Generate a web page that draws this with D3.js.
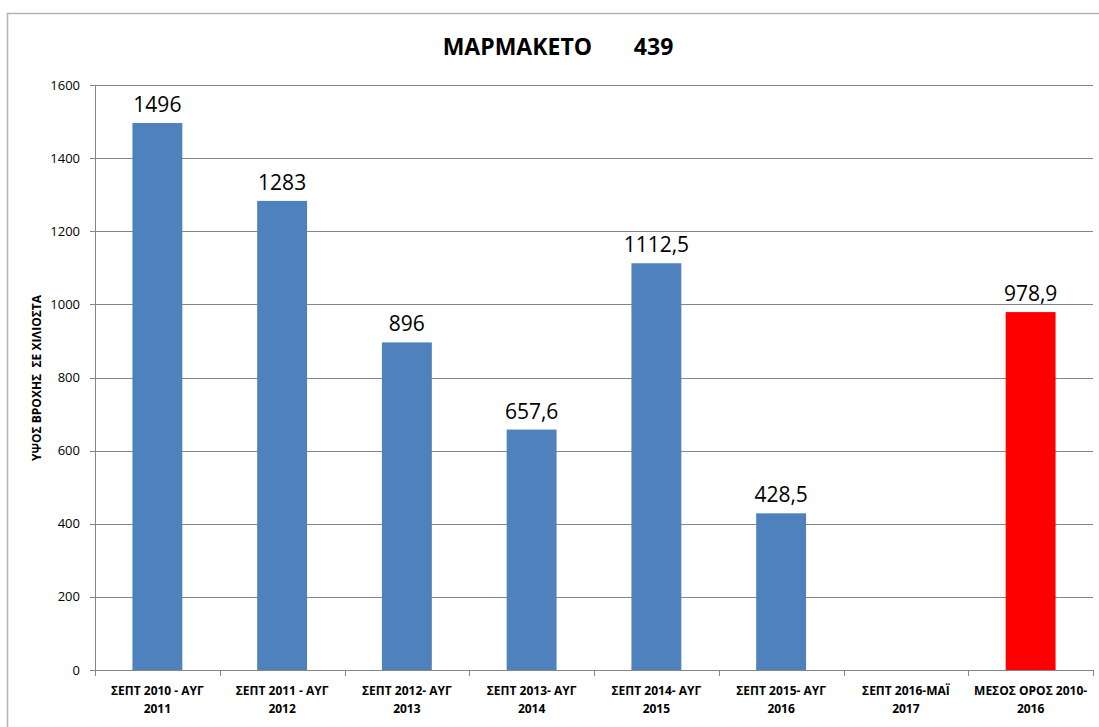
<!DOCTYPE html>
<html lang="el">
<head>
<meta charset="utf-8">
<title>ΜΑΡΜΑΚΕΤΟ 439</title>
<script src="https://d3js.org/d3.v7.min.js"></script>
<style>
    body { margin: 0; background: #fff; }
    text { font-family: "Open Sans", "Noto Sans", sans-serif; fill: #000; }
</style>
</head>
<body>
<script>
    // chart data
    var categories = [
        ["ΣΕΠΤ 2010 - ΑΥΓ", "2011"],
        ["ΣΕΠΤ 2011 - ΑΥΓ", "2012"],
        ["ΣΕΠΤ 2012- ΑΥΓ", "2013"],
        ["ΣΕΠΤ 2013- ΑΥΓ", "2014"],
        ["ΣΕΠΤ 2014- ΑΥΓ", "2015"],
        ["ΣΕΠΤ 2015- ΑΥΓ", "2016"],
        ["ΣΕΠΤ 2016-ΜΑΪ", "2017"],
        ["ΜΕΣΟΣ ΟΡΟΣ 2010-", "2016"]
    ];
    var values = [1496, 1283, 896, 657.6, 1112.5, 428.5, null, 978.9];
    var barColors = ["#4F81BD", "#4F81BD", "#4F81BD", "#4F81BD", "#4F81BD", "#4F81BD", "#4F81BD", "#FF0000"];
    var yTicks = [0, 200, 400, 600, 800, 1000, 1200, 1400, 1600];

    var w = 1099, h = 727;
    var mLeft = 95, mRight = 1093, mTop = 85, mBottom = 670;

    var svg = d3.select("body").append("svg")
        .attr("width", w)
        .attr("height", h);

    // outer chart frame
    svg.append("rect")
        .attr("x", 7.5).attr("y", 13.5)
        .attr("width", 1200).attr("height", 800)
        .attr("fill", "none")
        .attr("stroke", "#b3b3b3")
        .attr("stroke-width", 1.5);

    var x = d3.scaleBand()
        .domain(d3.range(categories.length))
        .range([mLeft, mRight])
        .paddingInner(0.6)
        .paddingOuter(0.3);

    var y = d3.scaleLinear()
        .domain([0, 1600])
        .range([mBottom, mTop]);

    // gridlines
    svg.append("g")
        .selectAll("line")
        .data(yTicks)
        .enter().append("line")
        .attr("x1", mLeft - 5).attr("x2", mRight)
        .attr("y1", function (d) { return Math.round(y(d)) + 0.5; })
        .attr("y2", function (d) { return Math.round(y(d)) + 0.5; })
        .attr("stroke", "#868686")
        .attr("stroke-width", 1);

    // y axis line
    svg.append("line")
        .attr("x1", mLeft + 0.5).attr("x2", mLeft + 0.5)
        .attr("y1", mTop).attr("y2", mBottom)
        .attr("stroke", "#868686");

    // y tick labels
    svg.append("g")
        .selectAll("text")
        .data(yTicks)
        .enter().append("text")
        .attr("x", mLeft - 15)
        .attr("y", function (d) { return y(d); })
        .attr("dy", "0.35em")
        .attr("text-anchor", "end")
        .style("font-size", "13px")
        .text(function (d) { return d; });

    // x category ticks
    svg.append("g")
        .selectAll("line")
        .data(d3.range(categories.length + 1))
        .enter().append("line")
        .attr("x1", function (i) { return Math.round(mLeft + i * x.step()) + 0.5; })
        .attr("x2", function (i) { return Math.round(mLeft + i * x.step()) + 0.5; })
        .attr("y1", mBottom).attr("y2", mBottom + 6)
        .attr("stroke", "#868686");

    var idx = d3.range(values.length).filter(function (i) { return values[i] != null; });

    // bars
    svg.append("g")
        .selectAll("rect")
        .data(idx)
        .enter().append("rect")
        .attr("x", function (i) { return x(i); })
        .attr("width", x.bandwidth())
        .attr("y", function (i) { return y(values[i]); })
        .attr("height", function (i) { return mBottom - y(values[i]); })
        .attr("fill", function (i) { return barColors[i]; });

    // value labels
    svg.append("g")
        .selectAll("text")
        .data(idx)
        .enter().append("text")
        .attr("x", function (i) { return x(i) + x.bandwidth() / 2; })
        .attr("y", function (i) { return y(values[i]) - 11; })
        .attr("text-anchor", "middle")
        .style("font-size", "21px")
        .text(function (i) { return String(values[i]).replace(".", ","); });

    // category labels
    var cat = svg.append("g")
        .selectAll("text")
        .data(categories)
        .enter().append("text")
        .attr("text-anchor", "middle")
        .style("font-size", "12px")
        .style("font-weight", "bold");
    cat.append("tspan")
        .attr("x", function (d, i) { return x(i) + x.bandwidth() / 2; })
        .attr("y", 695)
        .text(function (d) { return d[0]; });
    cat.append("tspan")
        .attr("x", function (d, i) { return x(i) + x.bandwidth() / 2; })
        .attr("y", 713)
        .text(function (d) { return d[1]; });

    // y axis title
    svg.append("text")
        .attr("transform", "translate(41,378) rotate(-90)")
        .attr("text-anchor", "middle")
        .style("font-size", "12px")
        .style("font-weight", "bold")
        .style("white-space", "pre")
        .text("ΥΨΟΣ ΒΡΟΧΗΣ  ΣΕ ΧΙΛΙΟΣΤΑ");

    // title
    svg.append("text")
        .attr("x", 558).attr("y", 55)
        .attr("text-anchor", "middle")
        .style("font-size", "23px")
        .style("font-weight", "bold")
        .style("white-space", "pre")
        .text("ΜΑΡΜΑΚΕΤΟ       439");
</script>
</body>
</html>
